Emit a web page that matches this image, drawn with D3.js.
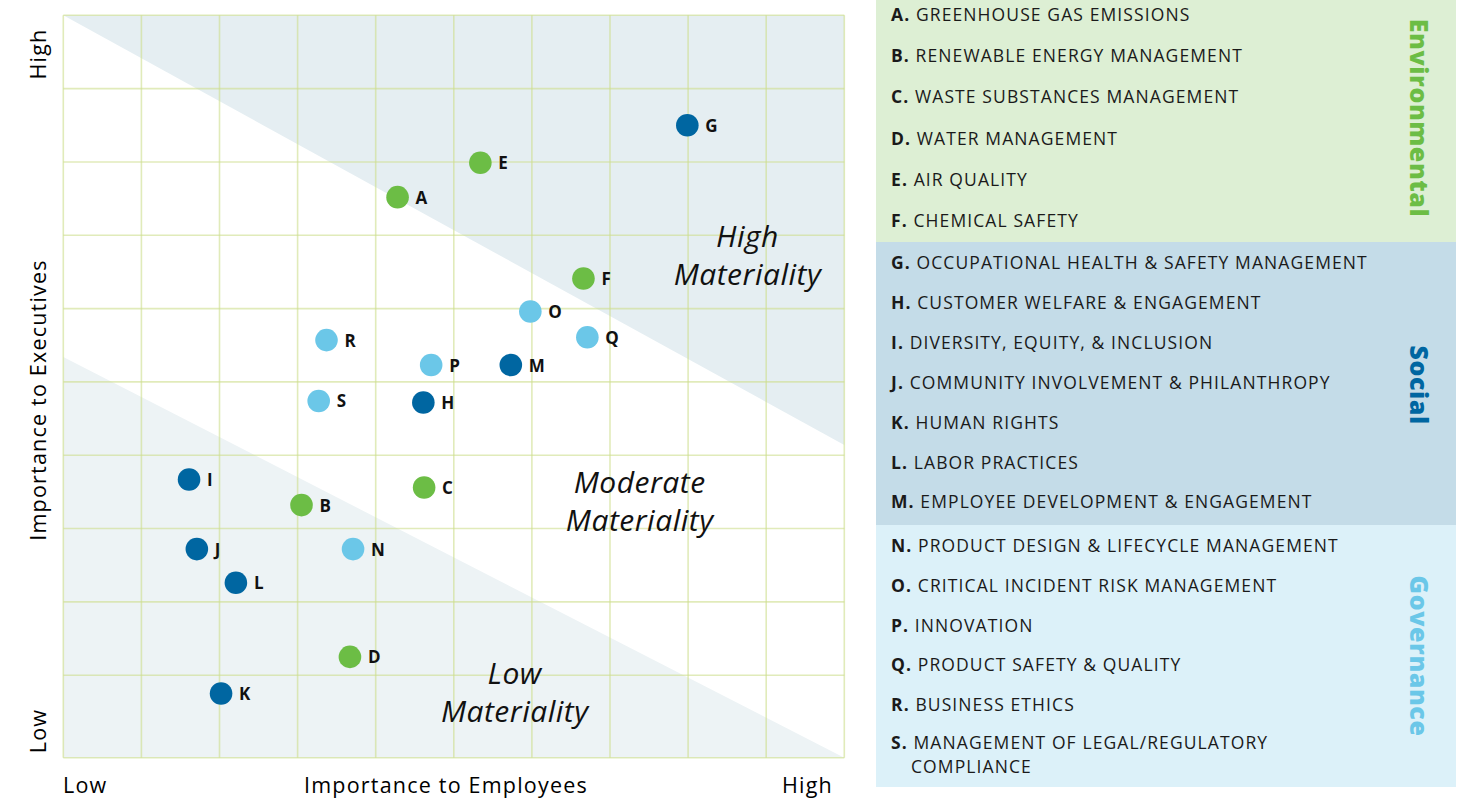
<!DOCTYPE html>
<html>
<head>
<meta charset="utf-8">
<script src="https://cdn.jsdelivr.net/npm/d3@7"></script>
<style>
  body { margin: 0; background: #fff; }
  svg { display: block; font-family: "Open Sans", "Noto Sans", sans-serif; }
</style>
</head>
<body>
<svg id="chart" width="1466" height="800"></svg>
<script>
// topics (letter, label, group) and their scores
const letters = ["A","B","C","D","E","F","G","H","I","J","K","L","M","N","O","P","Q","R","S"];
const topics = [
  "GREENHOUSE GAS EMISSIONS",
  "RENEWABLE ENERGY MANAGEMENT",
  "WASTE SUBSTANCES MANAGEMENT",
  "WATER MANAGEMENT",
  "AIR QUALITY",
  "CHEMICAL SAFETY",
  "OCCUPATIONAL HEALTH & SAFETY MANAGEMENT",
  "CUSTOMER WELFARE & ENGAGEMENT",
  "DIVERSITY, EQUITY, & INCLUSION",
  "COMMUNITY INVOLVEMENT & PHILANTHROPY",
  "HUMAN RIGHTS",
  "LABOR PRACTICES",
  "EMPLOYEE DEVELOPMENT & ENGAGEMENT",
  "PRODUCT DESIGN & LIFECYCLE MANAGEMENT",
  "CRITICAL INCIDENT RISK MANAGEMENT",
  "INNOVATION",
  "PRODUCT SAFETY & QUALITY",
  "BUSINESS ETHICS",
  "MANAGEMENT OF LEGAL/REGULATORY\nCOMPLIANCE"
];
const groupOf = ["Environmental","Environmental","Environmental","Environmental","Environmental","Environmental",
  "Social","Social","Social","Social","Social","Social","Social",
  "Governance","Governance","Governance","Governance","Governance","Governance"];
// importance to employees (x) and to executives (y), 0-10
const employees  = [4.28, 3.05, 4.62, 3.67, 5.34, 6.66, 7.99, 4.61, 1.61, 1.71, 2.02, 2.21, 5.73, 3.71, 5.98, 4.71, 6.71, 3.37, 3.27];
const executives = [7.52, 3.32, 3.56, 1.25, 7.99, 6.41, 8.50, 4.72, 3.67, 2.72, 0.75, 2.26, 5.23, 2.72, 5.96, 5.23, 5.61, 5.57, 4.74];

const groups = ["Environmental", "Social", "Governance"];
const groupColor = { Environmental: "#6cbd45", Social: "#0066a1", Governance: "#6bc7e8" };
const panelColor = { Environmental: "#ddefd4", Social: "#c4dce8", Governance: "#dcf1f9" };

const svg = d3.select("#chart");

// ---- scatter area ----
const x = d3.scaleLinear().domain([0, 10]).range([63.3, 844.3]);
const y = d3.scaleLinear().domain([-0.125, 10]).range([757.7, 15.3]);
const yBottom = -0.125;

const plot = svg.append("g");

// shaded materiality zones
const highZone = [[0, 10], [10, 10], [10, 4.14]];
const lowZone = [[0, 5.34], [0, yBottom], [10, yBottom]];
const line = d3.line().x(d => x(d[0])).y(d => y(d[1]));
plot.append("path").attr("d", line(highZone) + "Z").attr("fill", "#e5eef2");
plot.append("path").attr("d", line(lowZone) + "Z").attr("fill", "#edf3f5");

// grid
const gridColor = "rgba(205,222,140,0.6)";
plot.append("g").selectAll("line")
  .data(d3.range(0, 11))
  .join("line")
  .attr("x1", d => x(d)).attr("x2", d => x(d))
  .attr("y1", y(10)).attr("y2", y(yBottom))
  .attr("stroke", gridColor).attr("stroke-width", 1.6);
plot.append("g").selectAll("line")
  .data(d3.range(1, 11).concat([yBottom]))
  .join("line")
  .attr("x1", x(0)).attr("x2", x(10))
  .attr("y1", d => y(d)).attr("y2", d => y(d))
  .attr("stroke", gridColor).attr("stroke-width", 1.6);

// zone labels
const zoneLabels = [
  { lines: ["High", "Materiality"], x: 8.76, y: 6.84 },
  { lines: ["Moderate", "Materiality"], x: 7.38, y: 3.48 },
  { lines: ["Low", "Materiality"], x: 5.78, y: 0.88 }
];
zoneLabels.forEach(z => {
  const t = plot.append("text")
    .attr("text-anchor", "middle")
    .attr("font-style", "italic")
    .attr("font-size", 30)
    .attr("letter-spacing", 0.5)
    .attr("fill", "#111");
  z.lines.forEach((l, i) => {
    t.append("tspan").attr("x", x(z.x)).attr("y", y(z.y) + i * 38).text(l);
  });
});

// points
const pts = plot.append("g").selectAll("g")
  .data(letters.map((l, i) => ({ l, g: groupOf[i], ex: employees[i], ey: executives[i] })))
  .join("g")
  .attr("transform", d => `translate(${x(d.ex)},${y(d.ey)})`);
pts.append("circle").attr("r", 11.3).attr("fill", d => groupColor[d.g]);
pts.append("text")
  .attr("x", 18).attr("y", 6.5)
  .attr("font-weight", 700).attr("font-size", 17)
  .attr("fill", "#111")
  .text(d => d.l);

// axis labels
const axisFont = 21.5;
const axisSpacing = 1.2;
svg.append("text").attr("x", 63).attr("y", 793).attr("font-size", axisFont)
  .attr("letter-spacing", axisSpacing).text("Low");
svg.append("text").attr("x", 446).attr("y", 793).attr("font-size", axisFont)
  .attr("letter-spacing", axisSpacing)
  .attr("text-anchor", "middle").text("Importance to Employees");
svg.append("text").attr("x", 833).attr("y", 793).attr("font-size", axisFont)
  .attr("letter-spacing", axisSpacing)
  .attr("text-anchor", "end").text("High");

[["High", 54], ["Importance to Executives", 400], ["Low", 731]].forEach(([t, cy]) => {
  svg.append("text")
    .attr("transform", `translate(46,${cy}) rotate(-90)`)
    .attr("text-anchor", "middle")
    .attr("font-size", axisFont)
    .attr("letter-spacing", axisSpacing)
    .text(t);
});

// ---- legend panels ----
const panels = {
  Environmental: { top: 0, bottom: 242, first: 15, step: 41.2, titleY: 118 },
  Social: { top: 242, bottom: 525, first: 263, step: 39.9, titleY: 385 },
  Governance: { top: 525, bottom: 787, first: 546, step: 39.8, titleY: 656 }
};
const legend = svg.append("g");
legend.selectAll("rect")
  .data(groups)
  .join("rect")
  .attr("x", 876).attr("width", 580)
  .attr("y", d => panels[d].top)
  .attr("height", d => panels[d].bottom - panels[d].top)
  .attr("fill", d => panelColor[d]);

legend.selectAll("text.title")
  .data(groups)
  .join("text")
  .attr("class", "title")
  .attr("transform", d => `translate(1410,${panels[d].titleY}) rotate(90)`)
  .attr("text-anchor", "middle")
  .attr("font-weight", 800)
  .attr("font-size", 25)
  .attr("letter-spacing", 0.6)
  .attr("fill", d => groupColor[d])
  .text(d => d);

letters.forEach((l, i) => {
  const g = groupOf[i];
  const idx = groupOf.slice(0, i).filter(v => v === g).length;
  const cy = panels[g].first + idx * panels[g].step;
  const lines = topics[i].split("\n");
  const lift = lines.length > 1 ? 2 : 0;
  legend.append("text")
    .attr("x", 891).attr("y", cy + 6 - lift)
    .attr("font-size", 17.5)
    .attr("letter-spacing", 1.1)
    .attr("fill", "#1a1a1a")
    .call(t => {
      t.append("tspan").attr("font-weight", 700).text(l + ". ");
      t.append("tspan").text(lines[0]);
    });
  // wrapped continuation lines, indented under the topic text
  lines.slice(1).forEach((ln, k) => {
    legend.append("text")
      .attr("x", 911).attr("y", cy + 6 - lift + 24 * (k + 1))
      .attr("font-size", 17.5)
      .attr("letter-spacing", 1.1)
      .attr("fill", "#1a1a1a")
      .text(ln);
  });
});
</script>
</body>
</html>
